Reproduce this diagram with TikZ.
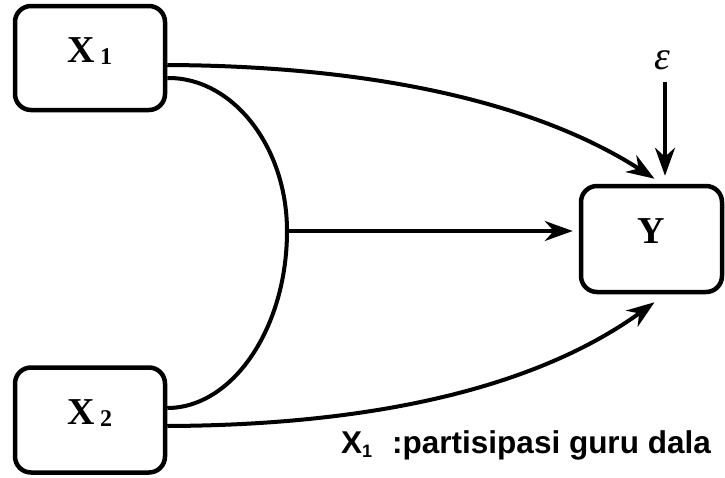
\documentclass[tikz,border=0pt]{standalone}
\usepackage{fontspec}
\setmainfont{Liberation Serif}
\newfontfamily\labelsans{Liberation Sans}
\usetikzlibrary{arrows.meta,calc}

\begin{document}
\begin{tikzpicture}[x=1pt,y=-1pt,
  varbox/.style={draw, line width=4.5pt, rounded corners=16pt, inner sep=0pt,
    font=\fontsize{38}{38}\selectfont\bfseries, text depth=16pt},
  arr/.style={line width=4pt, -{Stealth[length=28pt,width=20pt,inset=9pt]}},
  link/.style={line width=4pt}
]
\useasboundingbox (0,0) rectangle (725,477);
\clip (0,0) rectangle (725,477);

% variables
\node[varbox, minimum width=150pt, minimum height=104pt] (x1) at (90,58)
  {X\hspace{5pt}\raisebox{-2pt}{\fontsize{24}{24}\selectfont 1}};
\node[varbox, minimum width=150pt, minimum height=105pt] (x2) at (90,420)
  {X\hspace{5pt}\raisebox{-2pt}{\fontsize{24}{24}\selectfont 2}};
\node[varbox, minimum width=141pt, minimum height=106pt] (y) at (651.5,239) {Y};
\node[font=\fontsize{40}{40}\selectfont\itshape, inner sep=0pt] (eps) at (662,60) {ε};

% attachment points
\coordinate (a1) at ($(x1.east)+(0,7)$);
\coordinate (b1) at ($(x1.east)+(0,20)$);
\coordinate (a2) at ($(x2.east)+(0,6)$);
\coordinate (b2) at ($(x2.east)+(0,-12)$);
\coordinate (m) at (287,231);
\coordinate (mend) at ($(m -| y.west)+(-6,0)$);
\coordinate (ytop) at ($(y.north)+(3,-5)$);
\coordinate (ybot) at ($(y.south)+(3,8)$);
\coordinate (etop) at ($(eps.south)+(3,12)$);
\coordinate (eend) at ($(y.north)+(13.5,-8)$);

% direct paths
\draw[arr] (a1) .. controls (380,66) and (540,105) .. (ytop);
\draw[arr] (a2) .. controls (400,425) and (550,378) .. (ybot);

% joint path of both predictors
\draw[link] (b1) .. controls (232,77) and (287,146) .. (m)
  .. controls (287,329) and (232,408) .. (b2);
\draw[arr, line width=3.4pt] (m) -- (mend);

% error term
\draw[arr] (etop) -- (eend);

% legend line
\node[anchor=base west, inner sep=0pt, font=\labelsans\bfseries\fontsize{31.5}{32}\selectfont] (leg) at (341,453)
  {X\raisebox{-4pt}{\fontsize{18}{18}\selectfont 1}\hspace{20pt}:partisipasi guru dala};
\end{tikzpicture}
\end{document}
